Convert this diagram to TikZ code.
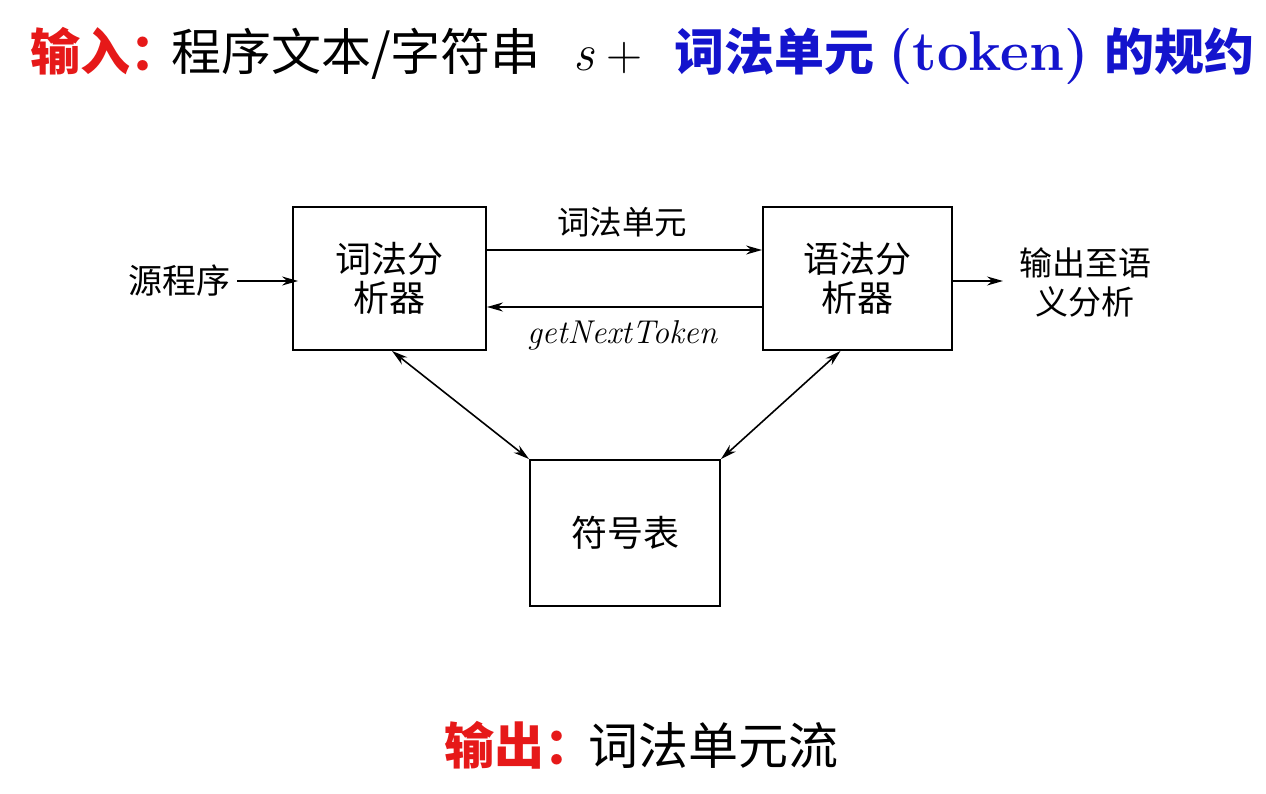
\documentclass[tikz,border=0pt]{standalone}
\usepackage{fontspec}
\newfontfamily\cjk{Noto Sans CJK SC}
\usetikzlibrary{arrows.meta}
\definecolor{titred}{RGB}{230,25,25}
\definecolor{titblue}{RGB}{20,20,205}
\begin{document}
\begin{tikzpicture}[x=1pt,y=-1pt,
  box/.style={draw,line width=1.9pt,inner sep=0pt,font=\cjk\fontsize{36}{39}\selectfont,align=center},
  arr/.style={line width=1.6pt,-{Stealth[length=16pt,width=9pt]}},
  darr/.style={line width=1.6pt,{Stealth[length=16pt,width=9pt]}-{Stealth[length=16pt,width=9pt]}},
  lbl/.style={inner sep=0pt,font=\cjk\fontsize{33}{39}\selectfont,align=center},
  big/.style={anchor=base west,inner sep=0pt,font=\fontsize{50}{56}\selectfont}]
\useasboundingbox[fill=white] (0,0) rectangle (1266,794);
% title
\node[big,text=titred,font=\cjk\bfseries\fontsize{50}{56}\selectfont] (t1) at (30,71) {输入：};
\node[big,font=\cjk\fontsize{50}{56}\selectfont] (t2) at (171,71) {程序文本/字符串};
\node[big,font=\itshape\fontsize{52}{56}\selectfont] (t3) at (573,71) {s};
\node[big] (t4) at (606,71) {+};
\node[big,text=titblue,font=\cjk\bfseries\fontsize{50}{56}\selectfont] (t5) at (674,71) {词法单元};
\node[big,text=titblue,font=\bfseries\fontsize{56}{60}\selectfont] (t6) at (888,71) {(token)};
\node[big,text=titblue,font=\cjk\bfseries\fontsize{50}{56}\selectfont] (t7) at (1104,71) {的规约};
% boxes
\node[box,minimum width=193pt,minimum height=143pt] (lex) at (389.5,278.5) {词法分\\析器};
\node[box,minimum width=189pt,minimum height=143pt] (par) at (857.5,278.5) {语法分\\析器};
\node[box,minimum width=190pt,minimum height=146pt] (sym) at (625,533) {符号表};
% labels
\node[lbl,anchor=east,font=\cjk\fontsize{34}{39}\selectfont] (src) at (231,281) {源程序};
\node[lbl] (outl) at (1085,282) {输出至语\\义分析};
\coordinate (outend) at (1003,281);
\node[inner sep=0pt,font=\fontsize{33}{36}\selectfont\itshape] (gnt) at (622,335) {getNextToken};
\node[lbl,font=\cjk\fontsize{32.5}{36}\selectfont] (tok) at (622,222) {词法单元};
% connectors
\draw[arr] ([xshift=6pt]src.east) -- ([xshift=6pt]src.east -| lex.west);
\draw[arr] ([yshift=28.5pt]lex.east) -- ([yshift=28.5pt]par.west);
\draw[arr] ([yshift=-28.5pt]par.west) -- ([yshift=-28.5pt]lex.east);
\draw[arr] (par.east |- outend) -- (outend);
\draw[darr] ([xshift=2.5pt]lex.south) -- (sym.north west);
\draw[darr] ([xshift=-17pt]par.south) -- (sym.north east);
% bottom
\node[big,text=titred,font=\cjk\bfseries\fontsize{50}{56}\selectfont] (r1) at (444,764) {输出：};
\node[big,font=\cjk\fontsize{50}{56}\selectfont] (r2) at (588,764) {词法单元流};
\end{tikzpicture}
\end{document}
